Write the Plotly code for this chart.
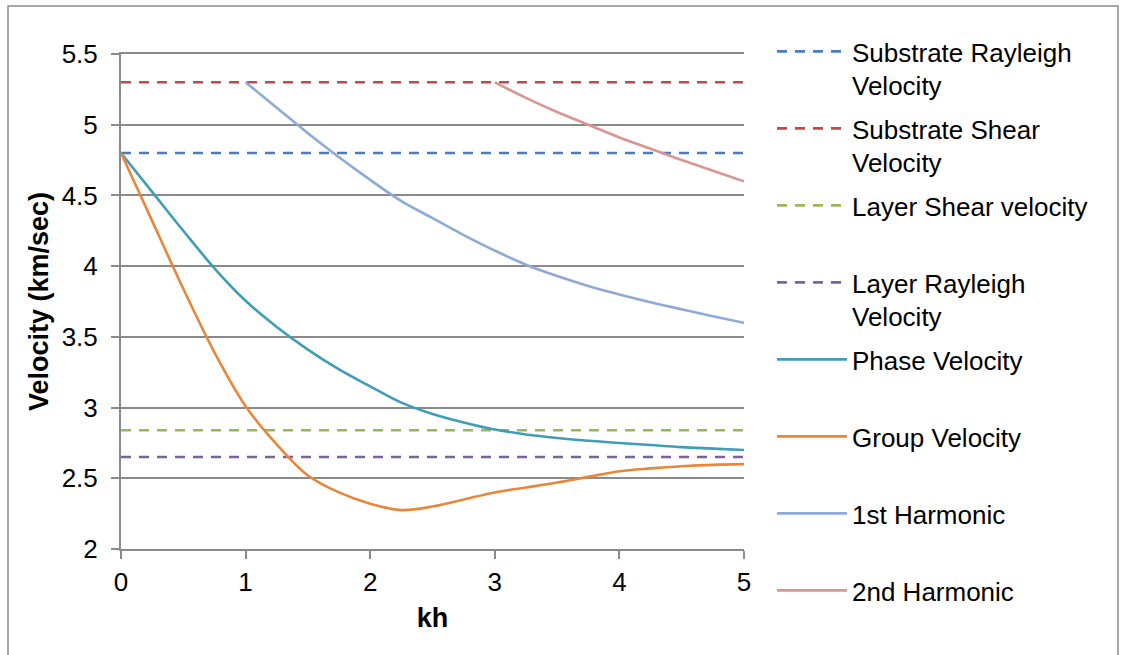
import plotly.graph_objects as go

# ---------------- data ----------------
kh = [0, 0.25, 0.5, 0.75, 1, 1.25, 1.5, 1.75, 2, 2.25, 2.5, 2.75, 3,
      3.25, 3.5, 3.75, 4, 4.25, 4.5, 4.75, 5]

phase_velocity = [4.80, 4.525, 4.25, 3.985, 3.755, 3.57, 3.41, 3.27, 3.15, 3.035,
                  2.955, 2.895, 2.845, 2.81, 2.785, 2.765, 2.75, 2.735, 2.72, 2.71, 2.70]

group_velocity = [4.80, 4.32, 3.84, 3.39, 3.01, 2.74, 2.52, 2.40, 2.32, 2.275,
                  2.30, 2.35, 2.40, 2.435, 2.47, 2.51, 2.55, 2.57, 2.585, 2.595, 2.60]

kh_harm1 = [1, 1.25, 1.5, 1.75, 2, 2.25, 2.5, 2.75, 3, 3.25, 3.5, 3.75, 4,
            4.25, 4.5, 4.75, 5]
harmonic1 = [5.30, 5.12, 4.94, 4.77, 4.61, 4.46, 4.34, 4.22, 4.11, 4.01,
             3.93, 3.86, 3.80, 3.745, 3.695, 3.645, 3.60]

kh_harm2 = [3, 3.25, 3.5, 3.75, 4, 4.25, 4.5, 4.75, 5]
harmonic2 = [5.30, 5.19, 5.09, 5.00, 4.91, 4.83, 4.75, 4.675, 4.60]

kh_const = [0, 5]
substrate_rayleigh = 4.80
substrate_shear = 5.30
layer_shear = 2.84
layer_rayleigh = 2.65

y_ticks = [2, 2.5, 3, 3.5, 4, 4.5, 5, 5.5]
y_tick_labels = ["2", "2.5", "3", "3.5", "4", "4.5", "5", "5.5"]
x_ticks = [0, 1, 2, 3, 4, 5]
x_tick_labels = ["0", "1", "2", "3", "4", "5"]

# ---------------- styling ----------------
FONT = "Liberation Sans, Arial, sans-serif"
FS = 26
FT = 27
GRID = "#8a8a8a"
LW = 2.6
DASH = "10px,8px"

fig = go.Figure()

def add(x, y, name, color, dash=None, group=None, smooth=False):
    line = dict(color=color, width=LW, dash=dash)
    if smooth:
        line.update(shape="spline", smoothing=1.0)
    fig.add_trace(go.Scatter(
        x=x, y=y, mode="lines", name=name,
        legendgroup=group, line=line, hoverinfo="skip",
    ))

add(kh_const, [substrate_rayleigh] * 2, "Substrate Rayleigh<br>Velocity", "#4a7ebb", DASH, "g1")
add(kh_const, [substrate_shear] * 2, "Substrate Shear<br>Velocity", "#be4b48", DASH, "g2")
add(kh_const, [layer_shear] * 2, "Layer Shear velocity<br> ", "#98b954", DASH, "g3")
add(kh_const, [layer_rayleigh] * 2, "Layer Rayleigh<br>Velocity", "#7d60a0", DASH, "g4")
add(kh, phase_velocity, "Phase Velocity<br> ", "#3f9db5", None, "g5", True)
add(kh, group_velocity, "Group Velocity<br> ", "#e8873a", None, "g6", True)
add(kh_harm1, harmonic1, "1st Harmonic<br> ", "#8eaad6", None, "g7", True)
add(kh_harm2, harmonic2, "2nd Harmonic<br> ", "#d99594", None, "g8", True)

# plot-area edges in page pixels
L, R, T, B = 121, 744, 54, 549
W, H = 1121, 655

def px_x(p):
    return (p - L) / (R - L)

def px_y(p):
    return (B - p) / (B - T)

fig.update_layout(
    width=W, height=H,
    margin=dict(l=L, r=W - R, t=T, b=H - B, pad=0, autoexpand=False),
    paper_bgcolor="white", plot_bgcolor="white",
    font=dict(family=FONT, size=FS, color="black"),
    showlegend=True,
    legend=dict(
        x=px_x(772), y=px_y(28), xanchor="left", yanchor="top",
        font=dict(family=FONT, size=FS, color="black"),
        valign="top", itemwidth=70, tracegroupgap=6.4,
        maxheight=640,
        bgcolor="rgba(0,0,0,0)", borderwidth=0,
        itemclick=False, itemdoubleclick=False,
    ),
    xaxis=dict(
        range=[0, 5], tickvals=x_ticks, ticktext=x_tick_labels,
        showgrid=False, zeroline=False,
        showline=True, linecolor=GRID, linewidth=2, mirror=True,
        ticks="outside", ticklen=8, tickwidth=2, tickcolor=GRID,
        ticklabelstandoff=1,
        tickfont=dict(family=FONT, size=FS, color="black"),
        title=dict(text="<b>kh</b>", font=dict(family=FONT, size=FT, color="black"), standoff=12),
        fixedrange=True,
    ),
    yaxis=dict(
        range=[2, 5.5], tickvals=y_ticks, ticktext=y_tick_labels,
        showgrid=True, gridcolor=GRID, gridwidth=2, zeroline=False,
        showline=True, linecolor=GRID, linewidth=2,
        ticks="outside", ticklen=8, tickwidth=2, tickcolor=GRID,
        ticklabelstandoff=8,
        tickfont=dict(family=FONT, size=FS, color="black"),
        title=dict(text="<b>Velocity (km/sec)</b>", font=dict(family=FONT, size=FT, color="black"), standoff=5),
        fixedrange=True,
    ),
    shapes=[dict(
        type="rect", xref="paper", yref="paper", layer="below",
        x0=px_x(8), x1=px_x(1118), y0=px_y(720), y1=px_y(6),
        line=dict(color="#8c8c8c", width=1.5), fillcolor="rgba(0,0,0,0)",
    )],
)

fig.write_html(
    "out.html",
    config={"displayModeBar": False},
    post_script="document.body.style.margin='0';",
)
